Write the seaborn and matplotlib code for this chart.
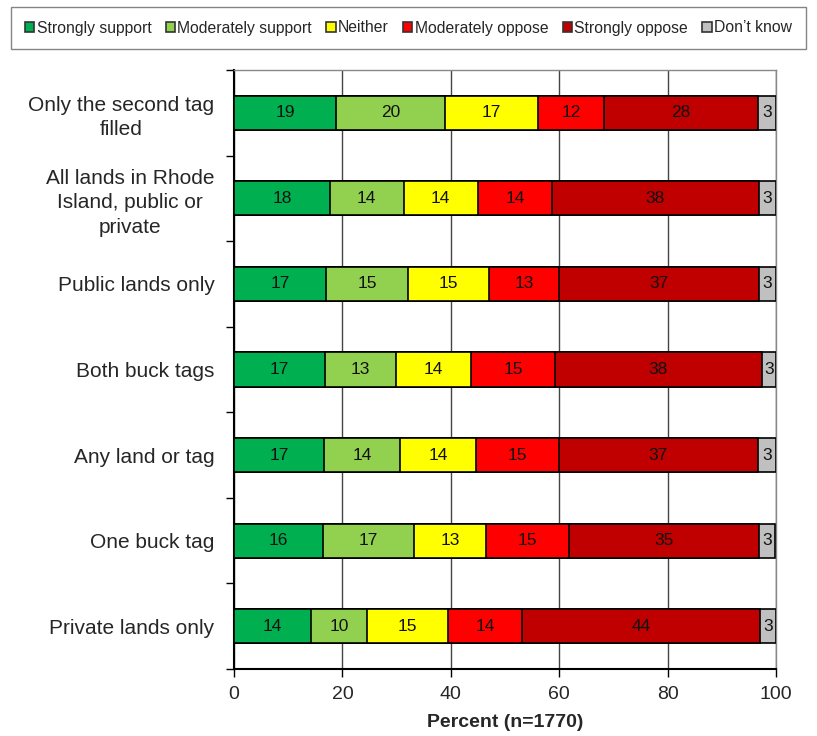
import numpy as np
import pandas as pd
import matplotlib
matplotlib.use("Agg")
import matplotlib.pyplot as plt
from matplotlib.patches import Patch
import seaborn as sns

# Survey items (top to bottom) and the share of responses in each category (%)
items = [
    "Only the second tag\nfilled",
    "All lands in Rhode\nIsland, public or\nprivate",
    "Public lands only",
    "Both buck tags",
    "Any land or tag",
    "One buck tag",
    "Private lands only",
]
responses = ["Strongly support", "Moderately support", "Neither",
             "Moderately oppose", "Strongly oppose", "Don\u2019t know"]

strongly_support = [18.9, 17.7, 17.0, 16.7, 16.6, 16.4, 14.2]
moderately_support = [20.0, 13.6, 15.1, 13.1, 14.0, 16.8, 10.3]
neither = [17.1, 13.7, 15.0, 14.0, 14.1, 13.3, 14.9]
moderately_oppose = [12.3, 13.7, 12.8, 15.4, 15.2, 15.4, 13.8]
strongly_oppose = [28.3, 38.1, 36.9, 38.2, 36.7, 35.0, 43.8]
dont_know = [3.4, 3.2, 3.2, 2.6, 3.4, 3.0, 3.0]

colors = ["#00B050", "#92D050", "#FFFF00", "#FF0000", "#C00000", "#C0C0C0"]
x_ticks = [0, 20, 40, 60, 80, 100]

df = pd.DataFrame(
    dict(zip(responses, [strongly_support, moderately_support, neither,
                         moderately_oppose, strongly_oppose, dont_know])),
    index=items,
)
cum = df.cumsum(axis=1)

sns.set_theme(style="white")
plt.rcParams["font.family"] = ["Liberation Sans", "DejaVu Sans"]

fig = plt.figure(figsize=(8.17, 7.36), dpi=100)
ax = fig.add_axes([234 / 817, 1 - 669 / 736, (776 - 234) / 817, (669 - 70) / 736])

# Stacked bars: draw cumulative totals from the longest to the shortest
for resp, col in reversed(list(zip(responses, colors))):
    sns.barplot(x=cum[resp].values, y=items, orient="h", color=col,
                saturation=1, edgecolor="black", linewidth=1.2, width=0.4,
                ax=ax, zorder=3)

# Segment value labels
for i, item in enumerate(items):
    left = 0.0
    for resp in responses:
        v = df.loc[item, resp]
        ax.text(left + v / 2, i, f"{v:.0f}", ha="center", va="center",
                fontsize=12.5, color="#111111", zorder=4)
        left += v

ax.set_xlim(0, 100)
ax.set_ylim(len(items) - 0.5, -0.5)
ax.set_xticks(x_ticks)
ax.set_xticklabels([str(t) for t in x_ticks], fontsize=14)
ax.set_xlabel("Percent (n=1770)", fontsize=14, fontweight="bold", labelpad=8)
ax.set_ylabel("")
ax.set_yticks(range(len(items)))
ax.set_yticklabels(items, fontsize=15, linespacing=1.35, ha="right",
                   multialignment="center")
ax.tick_params(axis="y", length=0, pad=14)
ax.set_yticks(np.arange(-0.5, len(items), 1.0), minor=True)
ax.tick_params(axis="y", which="minor", length=6, width=1, color="black",
               direction="out", left=True)
ax.tick_params(axis="x", length=6, width=1, color="black", direction="out",
               bottom=True, pad=6)

ax.grid(axis="x", color="#444444", linewidth=1, zorder=0)
ax.grid(axis="y", visible=False)
for side in ["left", "bottom"]:
    ax.spines[side].set_color("black")
    ax.spines[side].set_linewidth(1.5)
for side in ["top", "right"]:
    ax.spines[side].set_color("#888888")
    ax.spines[side].set_linewidth(1)

handles = [Patch(facecolor=c, edgecolor="#333333", linewidth=1.2) for c in colors]
leg = fig.legend(handles, responses, loc="center", ncol=6,
                 bbox_to_anchor=(0.5, 1 - 28 / 736), fontsize=11.35,
                 frameon=True, fancybox=False, handlelength=0.6,
                 handleheight=0.6, handletextpad=0.15, columnspacing=0.9,
                 borderpad=0.85)
leg.get_frame().set_edgecolor("#666666")
leg.get_frame().set_linewidth(1)

fig.savefig("out.png", dpi=100)
